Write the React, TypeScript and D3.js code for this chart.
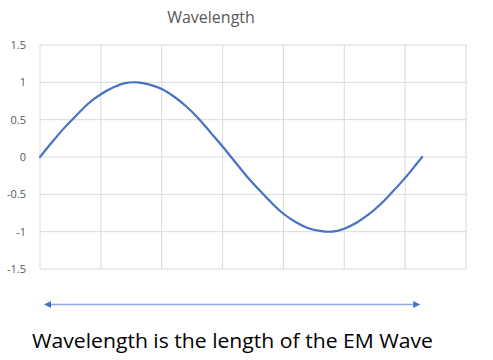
import React, { useRef, useEffect } from 'react';
import * as d3 from 'd3';

// angle (radians) and the wave's value
const angles = [0, 0.2, 0.4, 0.6, 0.8, 1.0, 1.2, 1.4, 1.6, 1.8, 2.0, 2.2, 2.4, 2.6, 2.8, 3.0, 3.2, 3.4, 3.6, 3.8, 4.0, 4.2, 4.4, 4.6, 4.8, 5.0, 5.2, 5.4, 5.6, 5.8, 6.0, 6.2, 6.28];
const values = [0, 0.2, 0.39, 0.56, 0.72, 0.84, 0.93, 0.99, 1.0, 0.97, 0.91, 0.81, 0.68, 0.52, 0.33, 0.14, -0.06, -0.26, -0.44, -0.61, -0.76, -0.87, -0.95, -0.99, -1.0, -0.96, -0.88, -0.77, -0.63, -0.46, -0.28, -0.08, 0];
const yTicks = [-1.5, -1, -0.5, 0, 0.5, 1, 1.5];
const xGrid = [0, 1, 2, 3, 4, 5, 6, 7];

function App() {
  const svgRef = useRef<SVGSVGElement>(null);

  useEffect(() => {
    const width = 493;
    const height = 360;
    const left = 40, right = 466, top = 45, bottom = 269;

    const svg = d3.select(svgRef.current);
    svg.selectAll('*').remove();
    svg.attr('width', width).attr('height', height);

    const x = d3.scaleLinear().domain([0, 7]).range([left, right]);
    const y = d3.scaleLinear().domain([-1.5, 1.5]).range([bottom, top]);

    // gridlines
    svg.append('g')
      .selectAll('line')
      .data(yTicks)
      .join('line')
      .attr('x1', left).attr('x2', right)
      .attr('y1', d => y(d)).attr('y2', d => y(d))
      .attr('stroke', '#d9d9d9').attr('stroke-width', 1);
    svg.append('g')
      .selectAll('line')
      .data(xGrid)
      .join('line')
      .attr('x1', d => x(d)).attr('x2', d => x(d))
      .attr('y1', top).attr('y2', bottom)
      .attr('stroke', '#d9d9d9').attr('stroke-width', 1);

    // y axis labels
    const yAxis = svg.append('g')
      .attr('transform', `translate(${left - 11},0)`)
      .call(d3.axisLeft(y).tickValues(yTicks).tickSize(0).tickFormat(d => String(d)));
    yAxis.select('.domain').remove();
    yAxis.selectAll('text')
      .attr('fill', '#595959')
      .style('font-family', "'Open Sans', sans-serif")
      .style('font-size', '11px');

    // the wave
    const pts = angles.map((a, i) => [a, values[i]] as [number, number]);
    const line = d3.line<[number, number]>()
      .x(d => x(d[0]))
      .y(d => y(d[1]))
      .curve(d3.curveCatmullRom);
    svg.append('path')
      .datum(pts)
      .attr('d', line)
      .attr('fill', 'none')
      .attr('stroke', '#4472c4')
      .attr('stroke-width', 2.2)
      .attr('stroke-linecap', 'round');

    // title
    svg.append('text')
      .attr('x', 211).attr('y', 23)
      .attr('text-anchor', 'middle')
      .attr('fill', '#595959')
      .style('font-family', "'Open Sans', sans-serif")
      .style('font-size', '16px')
      .text('Wavelength');

    // double arrow spanning one wavelength
    const ay = 304.5;
    const x0 = x(angles[0]) + 4;
    const x1 = x(angles[angles.length - 1]) - 2;
    svg.append('line')
      .attr('x1', x0 + 5).attr('x2', x1 - 5)
      .attr('y1', ay).attr('y2', ay)
      .attr('stroke', '#8faadc').attr('stroke-width', 1.5);
    svg.append('path')
      .attr('d', `M${x0},${ay} L${x0 + 7},${ay - 3.5} L${x0 + 7},${ay + 3.5} Z`)
      .attr('fill', '#4472c4');
    svg.append('path')
      .attr('d', `M${x1},${ay} L${x1 - 7},${ay - 3.5} L${x1 - 7},${ay + 3.5} Z`)
      .attr('fill', '#4472c4');

    // caption
    svg.append('text')
      .attr('x', 32).attr('y', 348)
      .attr('fill', '#000000')
      .style('font-family', "'Open Sans', sans-serif")
      .style('font-size', '19.5px')
      .attr('textLength', 401)
      .attr('lengthAdjust', 'spacingAndGlyphs')
      .text('Wavelength is the length of the EM Wave');
  }, []);

  return <svg ref={svgRef} style={{ position: 'absolute', left: 0, top: 0 }}></svg>;
}

export default App;
